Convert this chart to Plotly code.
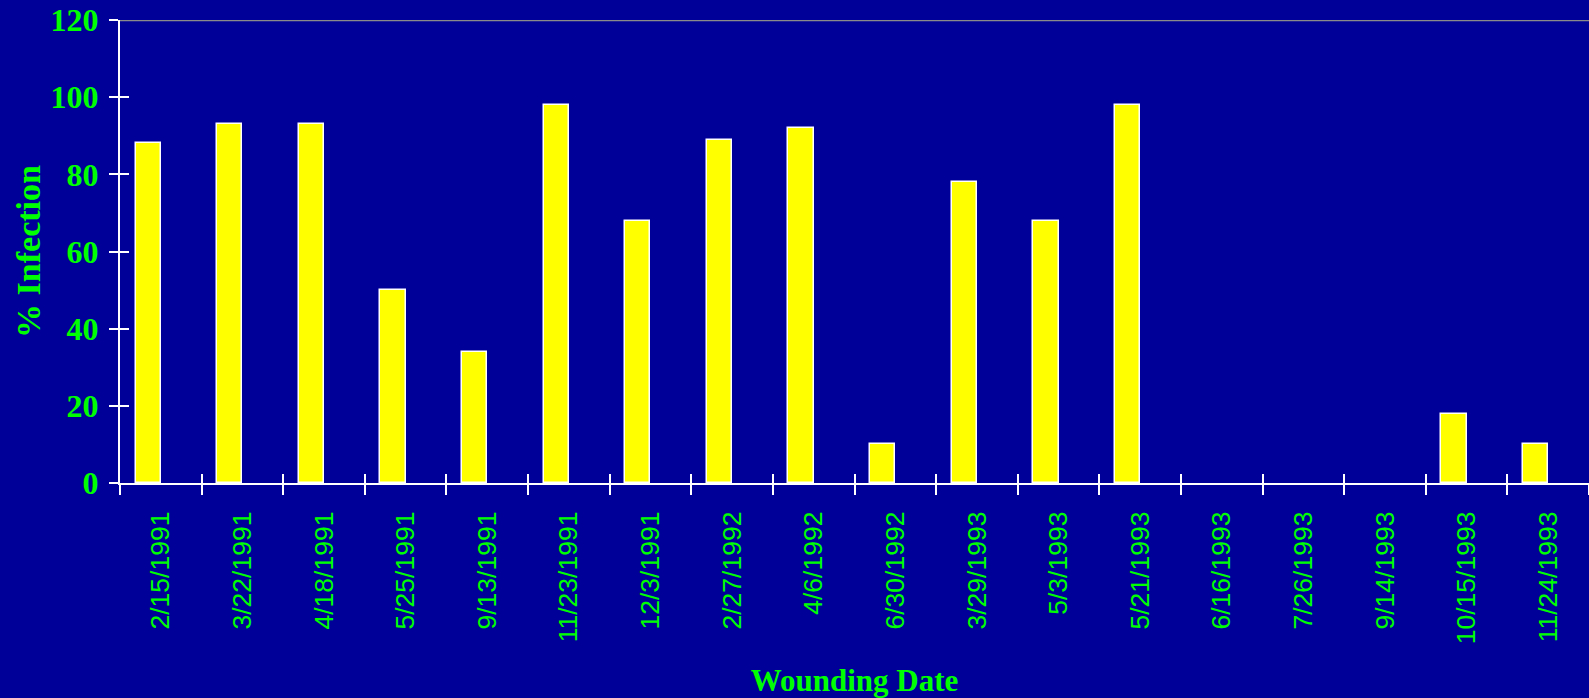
import plotly.graph_objects as go

# Wounding dates (categories) and percent infection per date
dates = [
    "2/15/1991", "3/22/1991", "4/18/1991", "5/25/1991", "9/13/1991",
    "11/23/1991", "12/3/1991", "2/27/1992", "4/6/1992", "6/30/1992",
    "3/29/1993", "5/3/1993", "5/21/1993", "6/16/1993", "7/26/1993",
    "9/14/1993", "10/15/1993", "11/24/1993",
]
infection = [88, 93, 93, 50, 34, 98, 68, 89, 92, 10, 78, 68, 98, 0, 0, 0, 18, 10]
y_ticks = [0, 20, 40, 60, 80, 100, 120]

BG = "#000099"
GREEN = "#00FF00"
SERIF = "Liberation Serif, Times New Roman, serif"
SANS = "Liberation Sans, Arial, sans-serif"

# no outline on empty bars so nothing shows above the axis line
outline_w = [1.5 if v > 0 else 0 for v in infection]

fig = go.Figure()

fig.add_bar(
    x=dates, y=infection,
    width=0.31, offset=-0.31,
    marker=dict(color="#FFFF00", line=dict(color="white", width=outline_w)),
    hoverinfo="skip", showlegend=False,
)

# transparent copy on overlay axes, used only to draw the inward half of the ticks
fig.add_bar(
    x=dates, y=infection, xaxis="x2", yaxis="y2",
    marker=dict(color="rgba(0,0,0,0)", line=dict(width=0)),
    hoverinfo="skip", showlegend=False,
)

fig.update_layout(
    width=1589, height=698,
    margin=dict(l=120, r=0, t=20, b=215),
    paper_bgcolor=BG, plot_bgcolor=BG,
    bargap=0,
    xaxis=dict(
        type="category", categoryorder="array", categoryarray=dates,
        range=[-0.5, len(dates) - 0.5], automargin=False,
        tickson="boundaries", ticks="outside", ticklen=10, tickwidth=2,
        tickcolor="white", showline=True, linecolor="white", linewidth=2,
        showgrid=False, tickangle=-90, ticklabelstandoff=16,
        tickfont=dict(family=SANS, size=26.5, color=GREEN),
        title=dict(text="Wounding Date", standoff=36,
                   font=dict(family=SERIF, size=31, color=GREEN, weight="bold")),
    ),
    yaxis=dict(
        range=[0, 120], tickvals=y_ticks, automargin=False,
        ticks="outside", ticklen=9, tickwidth=2, tickcolor="white",
        showline=True, linecolor="white", linewidth=2,
        showgrid=False, zeroline=False, ticklabelstandoff=4,
        tickfont=dict(family=SERIF, size=32, color=GREEN, weight="bold"),
        title=dict(text="% Infection", standoff=0,
                   font=dict(family=SERIF, size=34, color=GREEN, weight="bold")),
    ),
    xaxis2=dict(
        overlaying="x", type="category", categoryorder="array", categoryarray=dates,
        range=[-0.5, len(dates) - 0.5],
        tickson="boundaries", ticks="inside", ticklen=9, tickwidth=2,
        tickcolor="white", showticklabels=False, showline=False, showgrid=False,
    ),
    yaxis2=dict(
        overlaying="y", range=[0, 120], tickvals=y_ticks,
        ticks="inside", ticklen=9, tickwidth=2, tickcolor="white",
        showticklabels=False, showline=False, showgrid=False, zeroline=False,
    ),
    shapes=[dict(
        type="line", xref="paper", yref="y", x0=0, x1=1, y0=120, y1=120,
        line=dict(color="#8a8a8a", width=2.5), layer="below",
    )],
)

fig.write_html("out.html")
